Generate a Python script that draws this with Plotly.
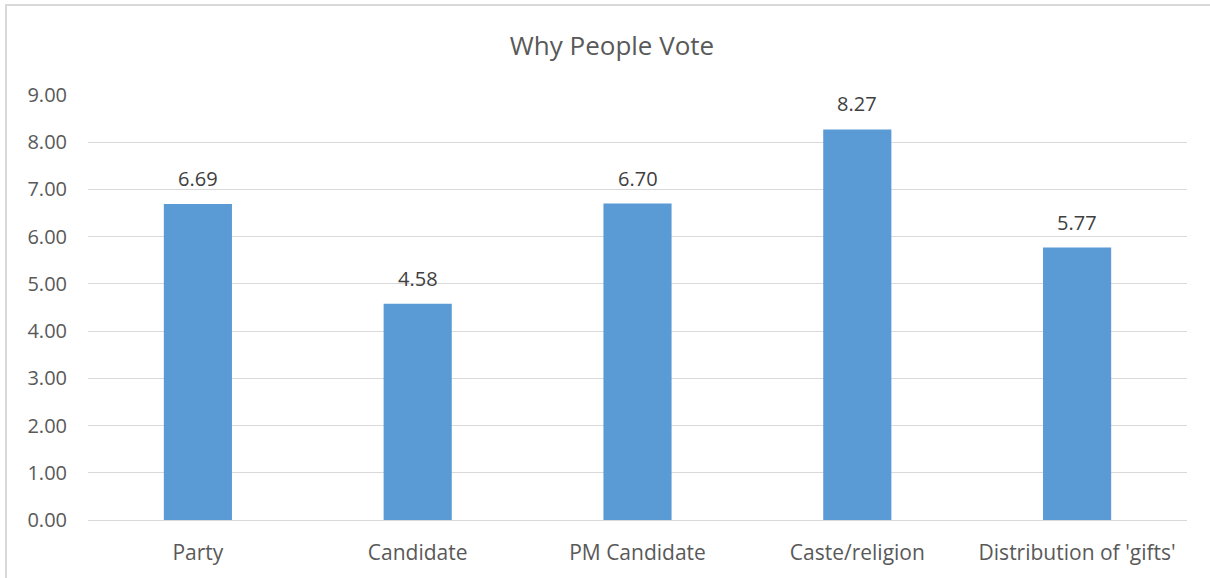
import plotly.graph_objects as go

categories = ["Party", "Candidate", "PM Candidate", "Caste/religion", "Distribution of 'gifts'"]
values = [6.69, 4.58, 6.70, 8.27, 5.77]
y_ticks = [0, 1, 2, 3, 4, 5, 6, 7, 8, 9]
title = "Why People Vote"

font_family = "Open Sans, Noto Sans, sans-serif"

fig = go.Figure(
    go.Bar(
        x=categories,
        y=values,
        marker=dict(color="#5B9BD5", line=dict(width=0)),
        hoverinfo="x+y",
    )
)

annotations = [
    dict(
        x=c,
        y=v,
        xref="x",
        yref="y",
        text=f"{v:.2f}",
        showarrow=False,
        yanchor="bottom",
        yshift=10,
        font=dict(size=20, color="#404040", family=font_family),
    )
    for c, v in zip(categories, values)
]

fig.update_layout(
    width=1210,
    height=578,
    margin=dict(l=88, r=23, t=95, b=58),
    paper_bgcolor="white",
    plot_bgcolor="white",
    bargap=0.69,
    showlegend=False,
    annotations=annotations,
    title=dict(
        text=title,
        x=612 / 1210,
        xref="container",
        xanchor="center",
        y=1 - 46 / 578,
        yanchor="middle",
        font=dict(size=26, color="#595959", family=font_family),
    ),
    font=dict(family=font_family, color="#595959"),
    shapes=[
        dict(
            type="rect",
            xref="paper",
            yref="paper",
            x0=-82 / 1099,
            x1=1.2,
            y0=-0.3,
            y1=1 + 90 / 425,
            line=dict(color="#D9D9D9", width=2),
            fillcolor="rgba(0,0,0,0)",
            layer="below",
        )
    ],
)

fig.update_xaxes(
    showgrid=False,
    showline=True,
    linecolor="#D9D9D9",
    linewidth=1,
    ticks="",
    ticklabelstandoff=14,
    tickfont=dict(size=21, color="#595959"),
)
fig.update_yaxes(
    range=[0, 9],
    tickvals=y_ticks,
    ticktext=[f"{t:.2f}" for t in y_ticks],
    showgrid=True,
    gridcolor="#D9D9D9",
    gridwidth=1,
    zeroline=False,
    showline=False,
    ticks="",
    ticklabelstandoff=20,
    tickfont=dict(size=20, color="#595959"),
)

fig.write_html(
    "out.html",
    config={"displayModeBar": False},
    post_script="document.body.style.margin='0';",
)
